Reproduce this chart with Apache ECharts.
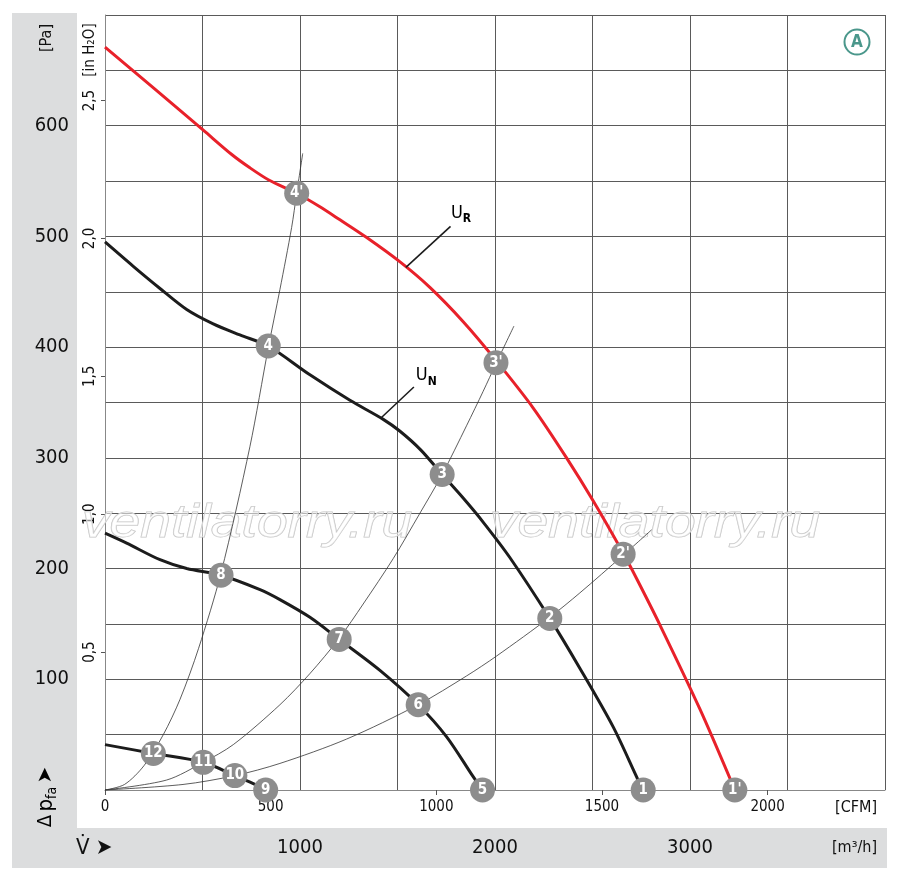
<!DOCTYPE html>
<html><head><meta charset="utf-8">
<script src="https://cdn.jsdelivr.net/npm/echarts@6/dist/echarts.min.js"></script>
<style>html,body{margin:0;padding:0;background:#fff}#c{width:900px;height:880px}</style>
</head><body><div id="c"></div>
<script>
const FONT = "'Liberation Sans Narrow','DejaVu Sans Condensed',Roboto,sans-serif";
// x = flow [m³/h], y = static pressure [Pa]
const curveUR  = [[0,671],[250,634],[504,596],[650,574],[743,562],[840,551],[983,539],[1100,527],[1205,515],[1342,499],[1513,477],[1666,454],[1837,423],[2005,388],[2196,345],[2367,300],[2504,261],[2657,214],[2726,191],[2846,149],[3051,73],[3230,0]];
const curveUN  = [[0,495],[145,473],[282,453],[419,434],[555,421],[692,411],[837,401],[1051,375],[1256,352],[1425,335],[1513,324],[1620,307],[1729,285],[1840,263],[1939,242],[2076,210],[2281,155],[2435,110],[2606,57],[2734,9],[2760,0]];
const curveMid = [[0,232],[111,223],[282,208],[419,200],[595,194],[795,181],[897,172],[1051,156],[1201,136],[1410,108],[1606,77],[1752,48],[1888,12],[1936,0]];
const curveLow = [[0,41],[248,33],[504,25],[666,13],[778,4.5],[824,0]];
// system (resistance) curves
const sysA = [[0,0],[100,5],[200,22],[299,50],[385,82],[480,128],[595,196],[743,310],[837,399],[897,452],[957,508],[983,539],[1014,575]];
const sysB = [[0,0],[316,9],[504,25],[658,41],[897,77],[1050,105],[1201,137],[1324,168],[1478,209],[1615,250],[1729,285],[1854,329],[1939,360],[2005,385],[2097,419]];
const sysC = [[0,0],[400,5],[666,13],[897,24],[1239,46],[1606,77],[1854,103],[2008,121],[2281,156],[2435,178],[2657,212],[2803,235]];
// operating points
const pointNames = ['1','2','3','4',"1'","2'","3'","4'",'5','6','7','8','9','10','11','12'];
const pointX = [2760,2281,1729,837,3230,2657,2005,983,1936,1606,1201,595,824,666,504,248];
const pointY = [0,155,285,401,0,213,386,539,0,77,136,194,0,13,25,33];
// annotation anchors (data units)
const leaderUR = [[1543,472],[1772,509]];
const leaderUN = [[1415,336],[1584,364]];
const labelUR = [1774,532];
const labelUN = [1594,385];
// axes
const m3hLabels = [1000,2000,3000];
const cfmLabels = [0,500,1000,1500,2000];
const paLabels = [100,200,300,400,500,600];
const inH2OLabels = [0.5,1.0,1.5,2.0,2.5];
const M3H_MAX = 4000, PA_MAX = 700;
const CFM_PER_M3H = 0.588578, PA_PER_INH2O = 249.089;

const chart = echarts.init(document.getElementById('c'), null, {renderer:'canvas'});
const thin = d => ({type:'line', data:d, smooth:0.3, symbol:'none', silent:true, lineStyle:{color:'#333', width:0.8}, z:3});
const thick = (d,c) => ({type:'line', data:d, smooth:0.3, symbol:'none', silent:true, lineStyle:{color:c, width:3}, z:4});

chart.setOption({
  animation:false,
  backgroundColor:'#fff',
  grid:{left:105, right:15, top:15, bottom:90, containLabel:false},
  xAxis:[
    {type:'value', min:0, max:M3H_MAX, interval:500, position:'bottom',
     axisLine:{show:true, lineStyle:{color:'#888', width:1}}, axisTick:{show:false},
     splitLine:{show:true, lineStyle:{color:'#5a5a5a', width:1}},
     axisLabel:{margin:48, fontSize:20, color:'#111', fontFamily:FONT,
       formatter:v=> m3hLabels.includes(v)? String(v):''}},
    {type:'value', min:0, max:M3H_MAX*CFM_PER_M3H, position:'bottom',
     axisLine:{show:false}, splitLine:{show:false},
     axisTick:{show:true, length:5, lineStyle:{color:'#555'}, customValues:cfmLabels},
     axisLabel:{margin:10, fontSize:15, color:'#111', fontFamily:FONT, customValues:cfmLabels,
       formatter:v=> String(v)}}
  ],
  yAxis:[
    {type:'value', min:0, max:PA_MAX, interval:50, position:'left',
     axisLine:{show:true, lineStyle:{color:'#888', width:1}}, axisTick:{show:false},
     splitLine:{show:true, lineStyle:{color:'#5a5a5a', width:1}},
     axisLabel:{margin:36, fontSize:20, color:'#111', fontFamily:FONT,
       formatter:v=> paLabels.includes(v)? String(v):''}},
    {type:'value', min:0, max:PA_MAX/PA_PER_INH2O, position:'left',
     axisLine:{show:false}, splitLine:{show:false},
     axisTick:{show:true, length:4, lineStyle:{color:'#555'}, customValues:inH2OLabels},
     axisLabel:{margin:7, fontSize:15, color:'#111', fontFamily:FONT, rotate:90, customValues:inH2OLabels,
       formatter:v=> v.toFixed(1).replace('.',',')}}
  ],
  series:[
    thin(sysA), thin(sysB), thin(sysC),
    thick(curveLow,'#1c1c1c'), thick(curveMid,'#1c1c1c'), thick(curveUN,'#1c1c1c'), thick(curveUR,'#e8212a'),
    {type:'scatter', z:10, symbol:'circle', symbolSize:25, silent:true,
     itemStyle:{color:'#8d8d8d', opacity:1},
     label:{show:true, position:'inside', color:'#fff', fontWeight:'bold', fontSize:15, fontFamily:FONT,
       formatter:p=>p.name},
     data: pointNames.map((n,i)=>({name:n, value:[pointX[i], pointY[i]]}))}
  ]
});

const px = p => chart.convertToPixel({xAxisIndex:0, yAxisIndex:0}, p);
const band = '#dcddde';
const a1 = px(leaderUR[0]), a2 = px(leaderUR[1]);
const b1 = px(leaderUN[0]), b2 = px(leaderUN[1]);
const tUR = px(labelUR), tUN = px(labelUN);
const uRich = {u:{fontSize:18, fontFamily:FONT, color:'#111', lineHeight:24, verticalAlign:'middle'},
               s:{fontSize:12, fontFamily:FONT, color:'#111', fontWeight:'bold', lineHeight:24, verticalAlign:'bottom'}};
const wmStyle = {fill:'rgba(255,255,255,0.55)', stroke:'#c2c2c2', lineWidth:1,
                 font:"italic 46px 'Liberation Sans','DejaVu Sans',sans-serif"};

chart.setOption({graphic:[
  {type:'rect', z:-1, shape:{x:12, y:13, width:65, height:815}, style:{fill:band}},
  {type:'rect', z:-1, shape:{x:12, y:828, width:875, height:40}, style:{fill:band}},
  {type:'text', z:1, x:82, y:547, scaleX:1.2, style:Object.assign({text:'ventilatorry.ru', textVerticalAlign:'bottom'}, wmStyle)},
  {type:'text', z:1, x:490, y:547, scaleX:1.2, style:Object.assign({text:'ventilatorry.ru', textVerticalAlign:'bottom'}, wmStyle)},
  {type:'line', z:5, shape:{x1:a1[0], y1:a1[1], x2:a2[0], y2:a2[1]}, style:{stroke:'#1c1c1c', lineWidth:1.6}},
  {type:'line', z:5, shape:{x1:b1[0], y1:b1[1], x2:b2[0], y2:b2[1]}, style:{stroke:'#1c1c1c', lineWidth:1.6}},
  {type:'text', z:5, x:tUR[0], y:tUR[1], style:{text:'{u|U}{s|R}', rich:uRich, textVerticalAlign:'top'}},
  {type:'text', z:5, x:tUN[0], y:tUN[1], style:{text:'{u|U}{s|N}', rich:uRich, textVerticalAlign:'top'}},
  {type:'text', x:47, y:38, rotation:Math.PI/2, style:{text:'[Pa]', font:"16px "+FONT, fill:'#111', textAlign:'center', textVerticalAlign:'middle'}},
  {type:'text', x:90, y:50, rotation:Math.PI/2, style:{text:'[in H₂O]', font:"15px "+FONT, fill:'#111', textAlign:'center', textVerticalAlign:'middle'}},
  {type:'text', x:46, y:797, rotation:Math.PI/2, style:{text:'{d|Δ} {p|p}{s|fa} {a|➤}', textAlign:'center', textVerticalAlign:'middle',
     rich:{d:{fontSize:20, fontFamily:FONT, color:'#111', lineHeight:26, verticalAlign:'middle'},
           p:{fontSize:22, fontFamily:FONT, color:'#111', lineHeight:26, verticalAlign:'middle'},
           s:{fontSize:14, fontFamily:FONT, color:'#111', lineHeight:26, verticalAlign:'bottom'},
           a:{fontSize:20, fontFamily:"'DejaVu Sans',sans-serif", color:'#111', lineHeight:26, verticalAlign:'middle'}}}},
  {type:'text', x:76, y:848, style:{text:'V̇ ➤', font:"22px "+FONT, fill:'#111', textVerticalAlign:'middle'}},
  {type:'text', x:877, y:808, style:{text:'[CFM]', font:"16px "+FONT, fill:'#111', textAlign:'right', textVerticalAlign:'middle'}},
  {type:'text', x:877, y:848, style:{text:'[m³/h]', font:"16px "+FONT, fill:'#111', textAlign:'right', textVerticalAlign:'middle'}},
  {type:'circle', z:5, shape:{cx:857, cy:42, r:12.5}, style:{fill:'#fff', stroke:'#4a978b', lineWidth:2}},
  {type:'text', z:6, x:857, y:43, style:{text:'A', font:"bold 17px "+FONT, fill:'#4a978b', textAlign:'center', textVerticalAlign:'middle'}}
]});
</script></body></html>
